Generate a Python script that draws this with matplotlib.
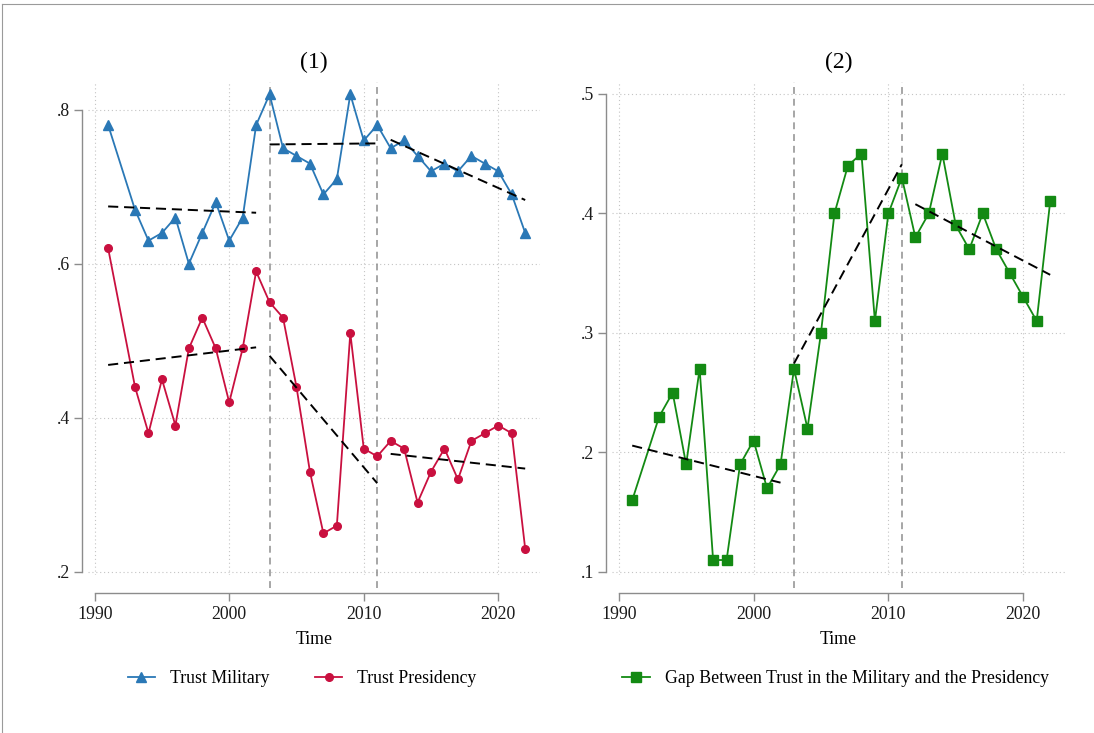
import numpy as np
import matplotlib
matplotlib.use("Agg")
import matplotlib.pyplot as plt
from matplotlib.ticker import FuncFormatter
from matplotlib.lines import Line2D

plt.rcParams['font.family'] = ['Liberation Serif', 'DejaVu Serif']

# survey years (1992 missing)
years = [1991, 1993, 1994, 1995, 1996, 1997, 1998, 1999, 2000, 2001, 2002,
         2003, 2004, 2005, 2006, 2007, 2008, 2009, 2010, 2011, 2012, 2013,
         2014, 2015, 2016, 2017, 2018, 2019, 2020, 2021, 2022]
trust_military = [0.78, 0.67, 0.63, 0.64, 0.66, 0.60, 0.64, 0.68, 0.63, 0.66, 0.78,
                  0.82, 0.75, 0.74, 0.73, 0.69, 0.71, 0.82, 0.76, 0.78, 0.75, 0.76,
                  0.74, 0.72, 0.73, 0.72, 0.74, 0.73, 0.72, 0.69, 0.64]
trust_presidency = [0.62, 0.44, 0.38, 0.45, 0.39, 0.49, 0.53, 0.49, 0.42, 0.49, 0.59,
                    0.55, 0.53, 0.44, 0.33, 0.25, 0.26, 0.51, 0.36, 0.35, 0.37, 0.36,
                    0.29, 0.33, 0.36, 0.32, 0.37, 0.38, 0.39, 0.38, 0.23]
trust_gap = [0.16, 0.23, 0.25, 0.19, 0.27, 0.11, 0.11, 0.19, 0.21, 0.17, 0.19,
             0.27, 0.22, 0.30, 0.40, 0.44, 0.45, 0.31, 0.40, 0.43, 0.38, 0.40,
             0.45, 0.39, 0.37, 0.40, 0.37, 0.35, 0.33, 0.31, 0.41]

breaks = [2003, 2011]
# periods for the separate linear fits
periods = [(1991, 2002), (2003, 2011), (2012, 2022)]

x_ticks = [1990, 2000, 2010, 2020]
left_yticks = [0.2, 0.4, 0.6, 0.8]
right_yticks = [0.1, 0.2, 0.3, 0.4, 0.5]

BLUE = '#2a78b6'
RED = '#c9103f'
GREEN = '#138a13'
AXCOL = '#8c8c8c'
FS = 12.8

yrs = np.array(years)


def fit_lines(ax, vals):
    vals = np.array(vals)
    for lo, hi in periods:
        m = (yrs >= lo) & (yrs <= hi)
        b = np.polyfit(yrs[m], vals[m], 1)
        xs = np.array([lo, hi])
        ax.plot(xs, np.polyval(b, xs), color='black', lw=1.4,
                dashes=(5.2, 3.0), zorder=4)


def style_axes(ax, yticks, ylim):
    ax.set_xlim(1989.5, 2023.1)
    ax.set_ylim(*ylim)
    ax.set_xticks(x_ticks)
    ax.set_yticks(yticks)
    ax.yaxis.set_major_formatter(FuncFormatter(lambda v, p: ('%.1f' % v).lstrip('0')))
    ax.grid(True, color='#c4c4c4', lw=0.8, dashes=(1, 2.5))
    ax.set_axisbelow(True)
    for s in ['top', 'right']:
        ax.spines[s].set_visible(False)
    ax.spines['left'].set_position(('outward', 4))
    ax.spines['bottom'].set_position(('outward', 13))
    ax.spines['left'].set_bounds(yticks[0], yticks[-1])
    ax.spines['bottom'].set_bounds(x_ticks[0], x_ticks[-1])
    for s in ['left', 'bottom']:
        ax.spines[s].set_color(AXCOL)
        ax.spines[s].set_linewidth(1.0)
    ax.tick_params(colors=AXCOL, labelcolor='#1a1a1a', labelsize=FS,
                   length=6, width=1.0, pad=3)
    ax.set_xlabel('Time', fontsize=FS, labelpad=6)
    for b in breaks:
        ax.axvline(b, ymin=-0.027, ymax=1.0, color='#8e8e8e', lw=1.1,
                   dashes=(4.5, 3.2), clip_on=False, zorder=1)


fig = plt.figure(figsize=(10.94, 7.33), dpi=100)
ax1 = fig.add_axes([0.0804, 0.2156, 0.4132, 0.6726])
ax2 = fig.add_axes([0.5594, 0.2156, 0.4141, 0.6726])

# (1) trust levels
style_axes(ax1, left_yticks, (0.196, 0.836))
ax1.plot(years, trust_military, color=BLUE, lw=1.3, marker='^', ms=7.5, zorder=3)
ax1.plot(years, trust_presidency, color=RED, lw=1.3, marker='o', ms=5.5, zorder=3)
fit_lines(ax1, trust_military)
fit_lines(ax1, trust_presidency)
ax1.set_title('(1)', fontsize=17, pad=10)

# (2) gap between the two
style_axes(ax2, right_yticks, (0.0975, 0.51))
ax2.plot(years, trust_gap, color=GREEN, lw=1.3, marker='s', ms=7.5, zorder=3)
fit_lines(ax2, trust_gap)
ax2.set_title('(2)', fontsize=17, pad=10)

h_mil = Line2D([], [], color=BLUE, lw=1.3, marker='^', ms=7.5)
h_pre = Line2D([], [], color=RED, lw=1.3, marker='o', ms=5.5)
h_gap = Line2D([], [], color=GREEN, lw=1.3, marker='s', ms=7.5)
fig.legend([h_mil, h_pre], ['Trust Military', 'Trust Presidency'],
           loc='center', bbox_to_anchor=(0.276, 0.074), ncol=2, frameon=False,
           fontsize=FS, handlelength=1.55, columnspacing=2.55, handletextpad=0.83)
fig.legend([h_gap], ['Gap Between Trust in the Military and the Presidency'],
           loc='center', bbox_to_anchor=(0.7637, 0.074), frameon=False,
           fontsize=FS, handlelength=1.55, handletextpad=0.83)

# outer frame on the left and top
fig.add_artist(Line2D([0.002, 0.002], [0.0, 0.994], color='#9a9a9a', lw=0.8))
fig.add_artist(Line2D([0.002, 1.0], [0.994, 0.994], color='#9a9a9a', lw=0.8))

fig.savefig('out.png', dpi=100)
